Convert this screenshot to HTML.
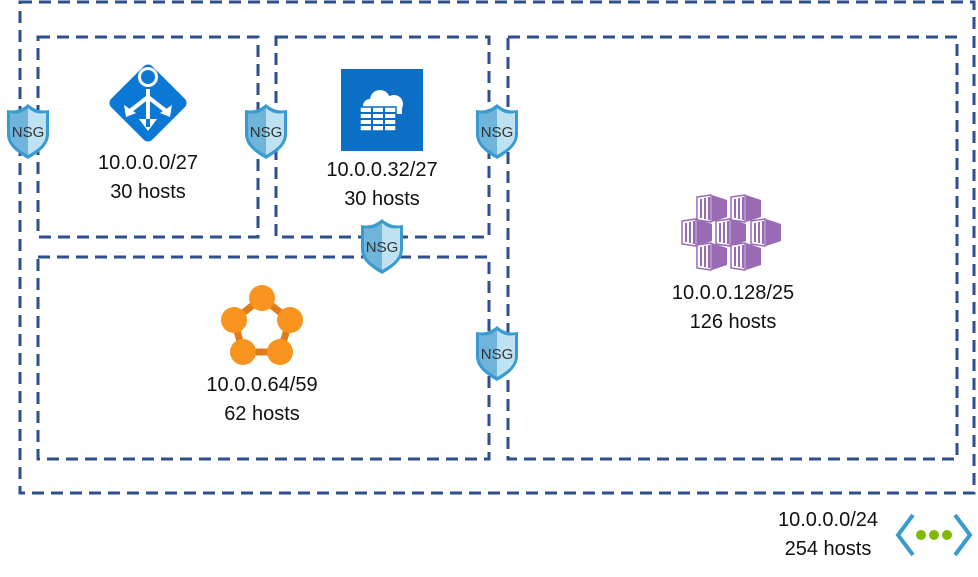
<!DOCTYPE html>
<html><head><meta charset="utf-8"><style>
html,body{margin:0;padding:0;background:#fff;}
svg{display:block;}
text{font-family:"Liberation Sans",sans-serif;font-size:20px;fill:#111;text-anchor:middle;}
</style></head><body>
<svg width="978" height="577" viewBox="0 0 978 577" xmlns="http://www.w3.org/2000/svg">
<defs>
<g id="shield">
 <path d="M0,-27 C-8,-20 -14,-20 -21,-21 L-21,3 C-21,15 -10,22 0,28 C10,22 21,15 21,3 L21,-21 C14,-20 8,-20 0,-27Z" fill="#3a9bd0"/>
 <path d="M0,-23 C-7,-17 -12,-17 -18,-18 L-18,3 C-18,13 -9,19 0,24Z" fill="#6fb4da"/>
 <path d="M0,-23 C7,-17 12,-17 18,-18 L18,3 C18,13 9,19 0,24Z" fill="#bfe2f2"/>
 <text x="0" y="6" style="font-size:15px;fill:#333">NSG</text>
</g>
<g id="cube">
 <path d="M0,2 L14,0 L14,27 L0,25Z" fill="#fff" stroke="#9a6bb5" stroke-width="1.5"/>
 <rect x="3" y="4" width="2" height="19" fill="#9a6bb5"/>
 <rect x="7" y="3" width="2" height="21" fill="#9a6bb5"/>
 <rect x="11" y="2" width="2" height="23" fill="#9a6bb5"/>
 <path d="M15,0 L30,5 L30,22 L15,27Z" fill="#9a6bb5"/>
</g>
</defs>
<g fill="none" stroke="#2e4f8c" stroke-width="3" stroke-dasharray="12 7">
 <rect x="20" y="2" width="954" height="491"/>
 <rect x="38" y="37" width="220" height="200"/>
 <rect x="276" y="37" width="213" height="200"/>
 <rect x="38" y="257" width="451" height="202"/>
 <rect x="508" y="37" width="449" height="422"/>
</g>
<!-- gateway icon -->
<g transform="translate(148,103)">
 <rect x="-29" y="-29" width="58" height="58" rx="6" fill="#0a78d4" transform="rotate(45)"/>
 <circle cx="0" cy="-26" r="10" fill="#fff"/>
 <circle cx="0" cy="-26" r="7" fill="#0a78d4"/>
 <path d="M-2,-14 L2,-14 L2,24 L-2,24Z M-9,16 L0,28 L9,16Z" fill="#fff"/>
 <path d="M0,-6 L-18,8 M0,-6 L18,8" stroke="#fff" stroke-width="4"/>
 <path d="M-24,2 L-22,14 L-12,10Z M24,2 L22,14 L12,10Z" fill="#fff"/>
</g>
<!-- sql icon -->
<rect x="341" y="69" width="82" height="82" fill="#0b6fc6"/>
<g fill="#fff">
 <circle cx="380" cy="100" r="10"/><circle cx="394" cy="104" r="9"/><circle cx="370" cy="106" r="7"/>
 <rect x="370" y="102" width="32" height="12"/>
</g>
<g fill="#fff" stroke="#0b6fc6" stroke-width="1.5">
 <rect x="360" y="107" width="36" height="24" fill="#fff"/>
</g>
<g stroke="#0b6fc6" stroke-width="2">
 <line x1="360" y1="113" x2="396" y2="113"/><line x1="360" y1="119" x2="396" y2="119"/><line x1="360" y1="125" x2="396" y2="125"/>
 <line x1="372" y1="107" x2="372" y2="131"/><line x1="384" y1="107" x2="384" y2="131"/>
</g>
<!-- pentagon icon -->
<g stroke="#e07a1a" stroke-width="7" fill="none">
 <path d="M262,298 L290,320 L280,352 L243,352 L234,320Z"/>
</g>
<g fill="#f7931e">
 <circle cx="262" cy="298" r="13"/><circle cx="290" cy="320" r="13"/><circle cx="280" cy="352" r="13"/><circle cx="243" cy="352" r="13"/><circle cx="234" cy="320" r="13"/>
</g>
<!-- containers -->
<use href="#cube" x="697" y="195"/><use href="#cube" x="731" y="195"/>
<use href="#cube" x="682" y="219"/><use href="#cube" x="716" y="219"/><use href="#cube" x="751" y="219"/>
<use href="#cube" x="697" y="243"/><use href="#cube" x="731" y="243"/>
<!-- vnet icon -->
<g fill="none" stroke="#3a9bd0" stroke-width="4">
 <path d="M913,515 L898,535 L913,555"/><path d="M955,515 L970,535 L955,555"/>
</g>
<g fill="#7fba00"><circle cx="921" cy="535" r="5"/><circle cx="934" cy="535" r="5"/><circle cx="947" cy="535" r="5"/></g>
<!-- shields -->
<use href="#shield" x="28" y="131"/>
<use href="#shield" x="266" y="131"/>
<use href="#shield" x="497" y="131"/>
<use href="#shield" x="382" y="246"/>
<use href="#shield" x="497" y="353"/>
<!-- labels -->
<text x="148" y="169">10.0.0.0/27</text><text x="148" y="198">30 hosts</text>
<text x="382" y="176">10.0.0.32/27</text><text x="382" y="205">30 hosts</text>
<text x="262" y="391">10.0.0.64/59</text><text x="262" y="420">62 hosts</text>
<text x="733" y="299">10.0.0.128/25</text><text x="733" y="328">126 hosts</text>
<text x="828" y="526">10.0.0.0/24</text><text x="828" y="555">254 hosts</text>
</svg>
</body></html>
